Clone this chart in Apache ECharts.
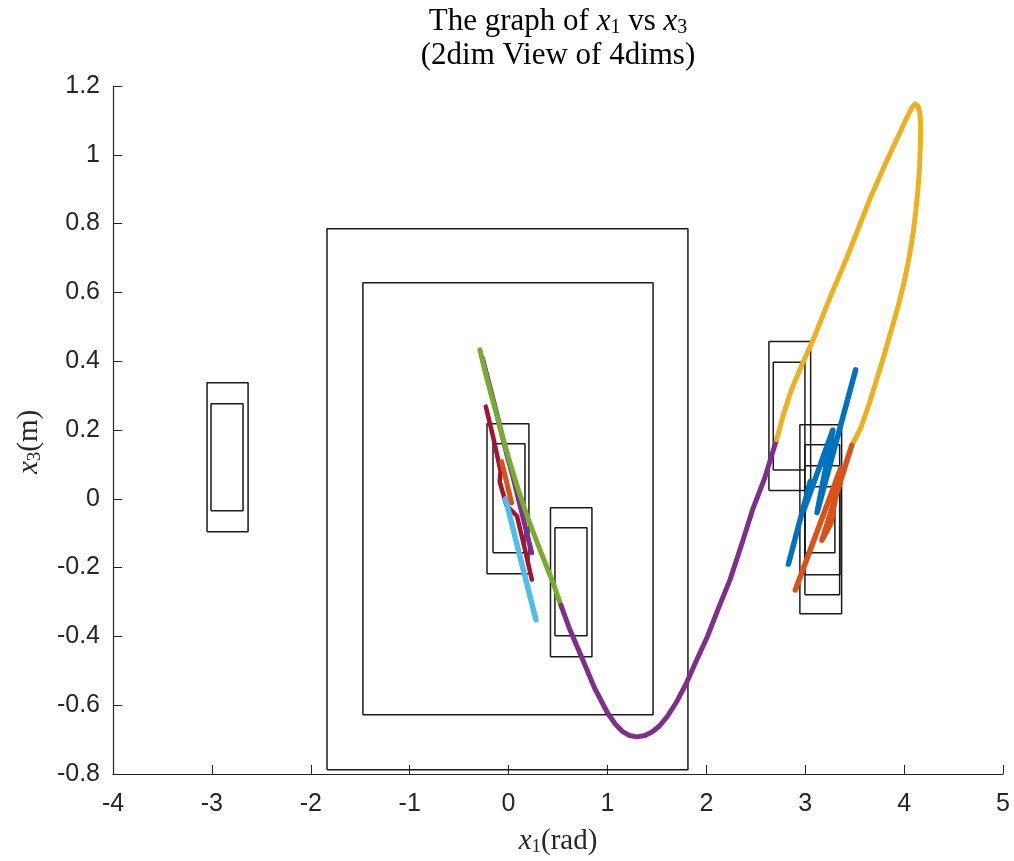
<!DOCTYPE html>
<html>
<head>
<meta charset="utf-8">
<title>The graph of x1 vs x3</title>
<script src="https://cdn.jsdelivr.net/npm/echarts@6/dist/echarts.min.js"></script>
<style>
  html, body { margin: 0; padding: 0; background: #fff; }
  #main { width: 1014px; height: 861px; }
</style>
</head>
<body>
<div id="main"></div>
<script>
// axis ranges
var xRange = [-4, 5];
var yRange = [-0.8, 1.2];

// boxes: [xmin, xmax, ymin, ymax]
var boxes = [
  [-1.836, 1.814, -0.788, 0.785],
  [-1.473, 1.461, -0.628, 0.628],
  [-3.049, -2.634, -0.096, 0.337],
  [-3.009, -2.685, -0.035, 0.276],
  [-0.218, 0.206, -0.218, 0.218],
  [-0.157, 0.166, -0.157, 0.160],
  [0.424, 0.843, -0.459, -0.026],
  [0.469, 0.793, -0.398, -0.084],
  [2.633, 3.055, 0.024, 0.457],
  [2.677, 2.997, 0.084, 0.397],
  [2.946, 3.368, -0.334, 0.215],
  [2.997, 3.348, -0.279, 0.157],
  [2.997, 3.351, -0.221, 0.096],
  [2.997, 3.300, -0.157, 0.035]
];

// trajectories
var darkRed = [[-0.23, 0.268], [-0.16, 0.185], [-0.08, 0.08], [-0.09, 0.05], [-0.02, -0.02],
               [0.085, -0.05], [0.16, -0.14], [0.236, -0.235]];
var lightBlue = [[-0.03, 0.0], [0.1, -0.15], [0.277, -0.352]];
var orangeLeft = [[-0.07, 0.108], [0.031, -0.012]];
var purpleLeft = [[-0.265, 0.41], [-0.13, 0.26], [-0.01, 0.12], [0.045, 0.064], [0.234, -0.157]];
var green = [[-0.29, 0.433], [-0.22, 0.35], [-0.15, 0.275], [-0.07, 0.19], [0.014, 0.105],
             [0.1, 0.025], [0.2, -0.06], [0.32, -0.15], [0.45, -0.244], [0.53, -0.31]];
var purple = [[0.53, -0.31], [0.62, -0.38], [0.75, -0.468], [0.87, -0.55], [1.0, -0.622],
              [1.08, -0.655], [1.15, -0.676], [1.22, -0.688], [1.30, -0.692], [1.38, -0.688],
              [1.45, -0.678], [1.52, -0.662], [1.60, -0.635], [1.70, -0.59], [1.80, -0.535],
              [1.90, -0.47], [2.01, -0.401], [2.12, -0.32], [2.24, -0.235], [2.36, -0.13],
              [2.47, -0.03], [2.59, 0.06], [2.71, 0.172]];
var yellow = [[2.71, 0.172], [2.78, 0.245], [2.86, 0.317], [2.96, 0.385], [3.08, 0.462],
              [3.25, 0.585], [3.42, 0.70], [3.65, 0.869], [3.82, 0.98], [3.957, 1.064],
              [4.03, 1.11], [4.08, 1.138], [4.11, 1.148], [4.14, 1.142], [4.16, 1.12],
              [4.168, 1.09], [4.165, 1.03], [4.155, 0.96], [4.14, 0.90], [4.12, 0.84],
              [4.09, 0.77], [4.05, 0.70], [4.0, 0.63], [3.94, 0.56], [3.87, 0.49],
              [3.79, 0.41], [3.71, 0.335], [3.64, 0.27], [3.56, 0.205], [3.47, 0.155]];
var orangeRight = [[3.47, 0.155], [3.17, -0.12], [3.26, -0.07], [3.36, 0.09], [2.9, -0.265]];
var blueRight = [[2.83, -0.19], [3.05, 0.05], [2.99, -0.03], [3.28, 0.2], [3.12, -0.04], [3.51, 0.375]];

var curves = [
  [darkRed, '#A2142F', 4.5],
  [lightBlue, '#4DBEEE', 5.5],
  [orangeLeft, '#D95319', 5],
  [purpleLeft, '#7E2F8E', 5],
  [green, '#77AC30', 5],
  [purple, '#7E2F8E', 5],
  [yellow, '#EDB120', 5],
  [blueRight, '#0072BD', 5.5],
  [orangeRight, '#D95319', 5.5]
];

var series = [];
for (var i = 0; i < boxes.length; i++) {
  var b = boxes[i];
  series.push({
    type: 'line',
    data: [[b[0], b[2]], [b[1], b[2]], [b[1], b[3]], [b[0], b[3]], [b[0], b[2]]],
    showSymbol: false,
    symbol: 'none',
    silent: true,
    lineStyle: { color: '#1a1a1a', width: 1.5 },
    z: 2
  });
}
for (var j = 0; j < curves.length; j++) {
  series.push({
    type: 'line',
    data: curves[j][0],
    showSymbol: false,
    symbol: 'none',
    silent: true,
    lineStyle: { color: curves[j][1], width: curves[j][2], cap: 'round', join: 'round' },
    z: 3
  });
}

var axisColor = '#262626';
var serif = 'Liberation Serif';
function labelRich(size, sub, color) {
  return {
    n: { fontFamily: serif, fontSize: size, color: color, fill: color },
    i: { fontFamily: serif, fontStyle: 'italic', fontSize: size, color: color, fill: color },
    s: { fontFamily: serif, fontSize: sub, padding: [12, 0, 0, 0], color: color, fill: color }
  };
}
var titleRich = labelRich(31, 20, '#000');
titleRich.n.lineHeight = 34;
titleRich.i.lineHeight = 34;
titleRich.s.lineHeight = 34;

var myChart = echarts.init(document.getElementById('main'));
var option = {
  animation: false,
  backgroundColor: '#fff',
  grid: { left: 113, right: 11, top: 86, bottom: 87, outerBoundsMode: 'none', containLabel: false },
  graphic: [{
    type: 'text',
    x: 558, y: 5,
    style: {
      textAlign: 'center',
      text: '{n|The graph of }{i|x}{s|1}{n| vs }{i|x}{s|3}\n{n|(2dim View of 4dims)}',
      rich: titleRich
    }
  }],
  xAxis: {
    type: 'value',
    min: xRange[0], max: xRange[1], interval: 1,
    name: '{i|x}{s|1}{n|(rad)}',
    nameLocation: 'middle',
    nameGap: 52,
    nameTextStyle: { rich: labelRich(29, 19, '#262626') },
    axisLine: { onZero: false, lineStyle: { color: axisColor, width: 1.2 } },
    axisTick: { inside: true, length: 9, lineStyle: { color: axisColor } },
    axisLabel: { fontFamily: 'Liberation Sans', fontSize: 25, color: axisColor, margin: 18 },
    splitLine: { show: false }
  },
  yAxis: {
    type: 'value',
    min: yRange[0], max: yRange[1], interval: 0.2,
    name: '{i|x}{s|3}{n|(m)}',
    nameLocation: 'middle',
    nameRotate: 90,
    nameGap: 68,
    nameTextStyle: { rich: labelRich(29, 19, '#262626'), padding: [0, 24, 0, 0] },
    axisLine: { show: true, onZero: false, lineStyle: { color: axisColor, width: 1.2 } },
    axisTick: { show: true, inside: true, length: 9, lineStyle: { color: axisColor } },
    axisLabel: {
      fontFamily: 'Liberation Sans', fontSize: 25, color: axisColor, margin: 13,
      formatter: function (v) { return String(+v.toFixed(1)); }
    },
    splitLine: { show: false }
  },
  series: series
};
myChart.setOption(option);
</script>
</body>
</html>
